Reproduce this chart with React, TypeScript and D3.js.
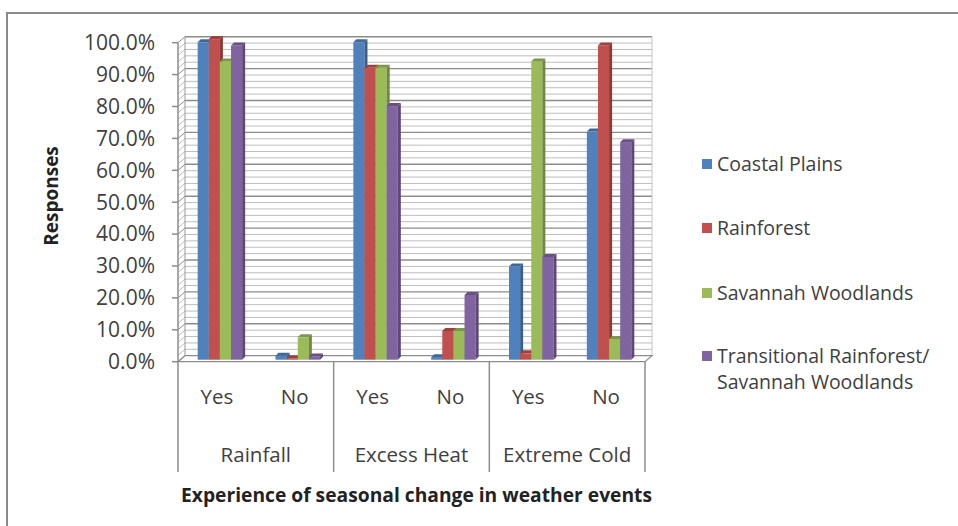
import React from "react";
import * as d3 from "d3";

const seriesNames = ["Coastal Plains", "Rainforest", "Savannah Woodlands", "Transitional Rainforest/ Savannah Woodlands"];
const legendLines = [["Coastal Plains"], ["Rainforest"], ["Savannah Woodlands"], ["Transitional Rainforest/", "Savannah Woodlands"]];
const groups = ["Rainfall", "Excess Heat", "Extreme Cold"];
const answers = ["Yes", "No"];
// values per category (group x answer), per series, in percent
const coastalPlains = [99.5, 1.2, 99.5, 0.8, 29.2, 71.5];
const rainforest = [100.5, 0.4, 91.5, 9.0, 2.0, 98.5];
const savannah = [93.5, 7.0, 91.5, 9.0, 93.5, 6.5];
const transitional = [98.5, 1.0, 79.5, 20.3, 32.2, 68.2];
const yTicks = [0, 10, 20, 30, 40, 50, 60, 70, 80, 90, 100];
const colors = ["#4F81BD", "#C0504D", "#9BBB59", "#8064A2"];

const seriesValues = [coastalPlains, rainforest, savannah, transitional];

export default function App() {
  const W = 958, H = 526;
  const left = 178, right = 645, y0 = 361.7, y100 = 42.7;
  const DX = 7, DY = -6;
  const font = "'Open Sans', 'Liberation Sans', sans-serif";
  const txt = "#404040";
  const catKeys = groups.flatMap((g) => answers.map((a) => g + "|" + a));
  const x = d3.scaleBand().domain(catKeys).range([left, right]).padding(0);
  const xs = d3.scaleBand().domain(seriesNames).range([0, x.bandwidth()]).paddingInner(0).paddingOuter(1.5);
  const y = d3.scaleLinear().domain([0, 100]).range([y0, y100]);
  const minor = d3.range(0, 100.1, 2);
  const bw = xs.bandwidth();
  const d = 3;
  const bx = 3, by = -2;

  return (
    <svg width={W} height={H} style={{ position: "absolute", left: 0, top: 0, background: "#fff" }}>
      {/* frame */}
      <path d={`M7,${H} L7,13 L${W},13`} fill="none" stroke="#8a8a8a" strokeWidth={2} />
      {/* back wall gridlines */}
      {minor.map((v) => {
        const major = Math.abs(v % 10) < 0.01;
        return (
          <g key={"g" + v}>
            <line x1={left + DX} x2={right + DX} y1={y(v) + DY} y2={y(v) + DY} stroke={major ? "#8c8c8c" : "#bdbdbd"} strokeWidth={major ? 1.4 : 1} />
            <line x1={left} x2={left + DX} y1={y(v)} y2={y(v) + DY} stroke={major ? "#8c8c8c" : "#bdbdbd"} strokeWidth={1} />
          </g>
        );
      })}
      {/* back wall edges */}
      <line x1={left + DX} x2={left + DX} y1={y(100) + DY} y2={y(0) + DY} stroke="#9a9a9a" />
      <line x1={right + DX} x2={right + DX} y1={y(100) + DY} y2={y(0) + DY} stroke="#c4c4c4" />
      {/* floor */}
      <path d={`M${left},${y0} L${right},${y0} L${right + DX},${y0 + DY} L${left + DX},${y0 + DY} Z`} fill="#fff" stroke="#8c8c8c" strokeWidth={1.2} />
      {/* left axis */}
      <line x1={left} x2={left} y1={y(100)} y2={472} stroke="#8c8c8c" strokeWidth={1.5} />
      {yTicks.map((t) => (
        <g key={"t" + t}>
          <line x1={left - 6} x2={left} y1={y(t)} y2={y(t)} stroke="#8c8c8c" strokeWidth={1.5} />
          <text x={155} y={y(t)} dy="0.35em" textAnchor="end" fontFamily={font} fontSize={21} fill={txt}>
            {t.toFixed(1) + "%"}
          </text>
        </g>
      ))}
      {/* bars */}
      {catKeys.map((k, ci) => (
        <g key={k}>
          {seriesValues.map((vals, si) => {
            const x0 = (x(k) as number) + (xs(seriesNames[si]) as number) + bx;
            const yt = y(vals[ci]) + by;
            const base = y0 + by;
            const c = d3.color(colors[si])!;
            const top = c.darker(0.6).formatHex();
            const side = c.darker(0.9).formatHex();
            return (
              <g key={si}>
                <rect x={x0} y={yt} width={bw} height={Math.max(0, base - yt)} fill={colors[si]} />
                <path d={`M${x0},${yt} L${x0 + d},${yt - d} L${x0 + bw + d},${yt - d} L${x0 + bw},${yt} Z`} fill={top} />
                <path d={`M${x0 + bw},${yt} L${x0 + bw + d},${yt - d} L${x0 + bw + d},${base - d} L${x0 + bw},${base} Z`} fill={side} />
              </g>
            );
          })}
        </g>
      ))}
      {/* category axis */}
      {groups.map((g) => {
        const gx0 = x(g + "|" + answers[0]) as number;
        const gx1 = (x(g + "|" + answers[answers.length - 1]) as number) + x.bandwidth();
        return (
          <g key={g}>
            <line x1={gx1} x2={gx1} y1={y0} y2={472} stroke="#8c8c8c" strokeWidth={1.5} />
            <text x={(gx0 + gx1) / 2} y={455} dy="0.35em" textAnchor="middle" fontFamily={font} fontSize={20.5} fill={txt}>{g}</text>
            {answers.map((a) => (
              <text key={a} x={(x(g + "|" + a) as number) + x.bandwidth() / 2} y={397} dy="0.35em" textAnchor="middle" fontFamily={font} fontSize={20.5} fill={txt}>{a}</text>
            ))}
          </g>
        );
      })}
      {/* axis titles */}
      <text transform={`translate(51,196) rotate(-90)`} textAnchor="middle" dy="0.35em" fontFamily={font} fontWeight="bold" fontSize={19} fill="#222">Responses</text>
      <text x={181} y={495} dy="0.35em" textLength={471} lengthAdjust="spacingAndGlyphs" fontFamily={font} fontWeight="bold" fontSize={19} fill="#222">Experience of seasonal change in weather events</text>
      {/* legend */}
      {legendLines.map((lines, i) => {
        const yc = [164, 228, 293, 356][i];
        return (
          <g key={i}>
            <rect x={702} y={yc - 5} width={10} height={10} fill={colors[i]} />
            {lines.map((l, li) => (
              <text key={li} x={717} y={yc + li * 26} dy="0.35em" fontFamily={font} fontSize={19.5} fill={txt}>{l}</text>
            ))}
          </g>
        );
      })}
    </svg>
  );
}
